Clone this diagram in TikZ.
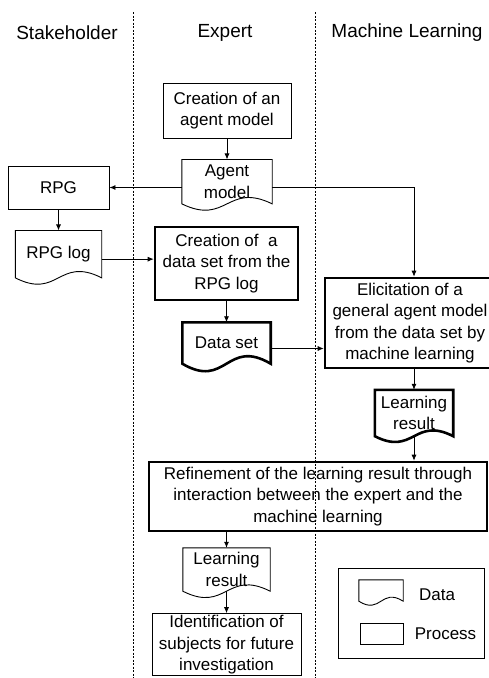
\documentclass[tikz,border=0pt]{standalone}
\usepackage{fontspec}
\setmainfont{Liberation Sans}
\usetikzlibrary{arrows.meta, positioning, calc}

\newcommand{\bodysize}{\fontsize{17}{21.5}\selectfont}
\newcommand{\docoutline}[3][]{%
  \draw[#1] (#2.south west) -- (#2.north west) -- (#2.north east) -- (#2.south east)
    .. controls ($(#2.south)+(0,#3)$) and ($(#2.south)+(0,-#3)$) .. (#2.south west) -- cycle;}

\begin{document}
\begin{tikzpicture}[
    x=1pt, y=1pt,
    node distance=21pt,
    lanehead/.style={font=\fontsize{19}{22}\selectfont},
    proc/.style={rectangle, draw, line width=0.9pt, inner sep=0pt, align=center, font=\bodysize},
    keyproc/.style={proc, line width=2.6pt},
    datadoc/.style={rectangle, inner sep=0pt, align=center, font=\bodysize},
    flow/.style={-{Latex[length=6pt,width=5pt]}, line width=0.8pt},
    lanesep/.style={line width=0.6pt, dash pattern=on 2pt off 1.5pt}
]
    \useasboundingbox (0,0) rectangle (489,-678);
    \clip (0,0) rectangle (489,-678);

    \draw[lanesep] (133,-12) -- (133,-678);
    \draw[lanesep] (315,-12) -- (315,-678);
    \node[lanehead] (hstake) at (67,-33) {Stakeholder};
    \node[lanehead] (hexpert) at (225,-33) {Expert};
    \node[lanehead] (hml) at (407,-33) {Machine Learning};

    \node[proc, minimum width=128pt, minimum height=55pt] (create) at (227,-110.5) {Creation of an\\agent model};
    \node[datadoc, minimum width=90pt, minimum height=44pt, below=21pt of create] (agent) {Agent\\model};
    \node[proc, minimum width=101pt, minimum height=43pt] (rpg) at (58.5,-187.5) {RPG};
    \node[datadoc, minimum width=86pt, minimum height=47pt, below=21pt of rpg] (rpglog) {RPG log};
    \node[keyproc, minimum width=143pt, minimum height=73pt] (dsetcreate) at (226.5,-263.5) {Creation of\ \ a\\data set from the\\RPG log};
    \node[datadoc, minimum width=88pt, minimum height=41pt, below=21pt of dsetcreate] (dataset) {Data set};
    \node[keyproc, minimum width=176pt, minimum height=90pt] (elicit) at (413,-323) {\hspace*{-6pt}Elicitation of a\\\hspace*{-6pt}general agent model\\\hspace*{-6pt}from the data set by\\\hspace*{-6pt}machine learning};
    \node[datadoc, minimum width=78pt, minimum height=46pt] (lresult1) at (414,-413) {Learning\\result};
    \node[keyproc, minimum width=338pt, minimum height=69pt] (refine) at (318,-496.5) {Refinement of the learning result through\\interaction between the expert and the\\machine learning};
    \node[datadoc, minimum width=87pt, minimum height=43pt] (lresult2) at (226.5,-569.5) {Learning\\result};
    \node[proc, minimum width=149pt, minimum height=62pt, below=22pt of lresult2] (ident) {Identification of\\subjects for future\\investigation};

    \node[proc, minimum width=146pt, minimum height=90pt] (legend) at (411,-613) {};
    \node[datadoc, minimum width=44pt, minimum height=21pt] (legdoc) at (381,-590.5) {};
    \node[proc, minimum width=43pt, minimum height=21pt] (legproc) at (381.5,-633.5) {};
    \node[font=\bodysize] (legdata) at (437,-595) {Data};
    \node[font=\bodysize] (legprocess) at (445.5,-634) {Process};

    \docoutline[line width=0.9pt]{agent}{22}
    \docoutline[line width=0.9pt]{rpglog}{22}
    \docoutline[line width=2.6pt]{dataset}{26}
    \docoutline[line width=2.6pt]{lresult1}{20}
    \docoutline[line width=0.9pt]{lresult2}{22}
    \docoutline[line width=0.9pt]{legdoc}{14}

    \draw[flow] (create) -- (agent);
    \draw[flow] (agent.west |- rpg.east) -- (rpg.east);
    \draw[flow] (agent.east |- rpg.east) -| (elicit.north -| lresult1.north);
    \draw[flow] (rpg) -- (rpglog);
    \draw[flow] ([yshift=-5pt]rpglog.east) -- ([yshift=-5pt]rpglog.east -| dsetcreate.west);
    \draw[flow] (dsetcreate) -- (dataset);
    \draw[flow] ([yshift=-5.5pt]dataset.east) -- ([yshift=-5.5pt]dataset.east -| elicit.west);
    \draw[flow] (elicit.south -| lresult1.north) -- (lresult1.north);
    \draw[flow] (lresult1.south) -- (refine.north -| lresult1.south);
    \draw[flow] (refine.south -| lresult2.north) -- (lresult2.north);
    \draw[flow] (lresult2.south) -- (ident.north);
\end{tikzpicture}
\end{document}
